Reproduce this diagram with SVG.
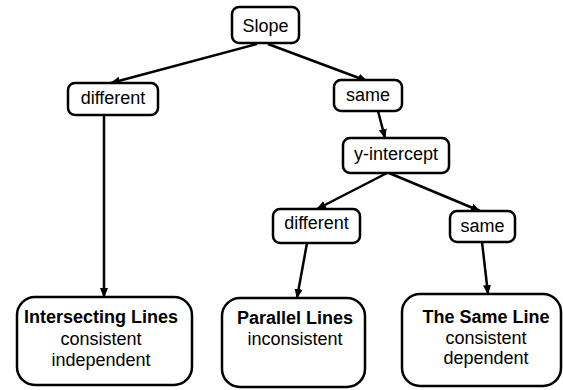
<svg xmlns="http://www.w3.org/2000/svg" width="563" height="390" viewBox="0 0 563 390">
<defs>
<marker id="ah" markerUnits="userSpaceOnUse" markerWidth="10" markerHeight="10" viewBox="0 0 10 10" refX="9" refY="5" orient="auto">
<path d="M0,1 L10,5 L0,9 z" fill="#000"/>
</marker>
</defs>
<style>
.box{fill:#fff;stroke:#000;stroke-width:2.5}
.t{font-family:"Liberation Sans",Arial,sans-serif;font-size:18px;fill:#000;text-anchor:middle}
.b{font-weight:bold}
.c{stroke:#000;stroke-width:2.5;fill:none;marker-end:url(#ah)}
</style>
<g id="connectors">
<line class="c" x1="257" y1="44" x2="111" y2="83"/>
<line class="c" x1="268" y1="44" x2="367" y2="81"/>
<line class="c" x1="104" y1="115" x2="104" y2="297"/>
<line class="c" x1="378" y1="111" x2="385" y2="138"/>
<line class="c" x1="387" y1="173" x2="317" y2="209"/>
<line class="c" x1="389" y1="173" x2="480" y2="211"/>
<line class="c" x1="307" y1="243" x2="297" y2="298"/>
<line class="c" x1="482" y1="242" x2="488" y2="294"/>
</g>
<g id="slope"><rect class="box" x="232" y="7" width="67" height="36" rx="7"/><text class="t" x="265.5" y="32">Slope</text></g>
<g id="diff1"><rect class="box" x="68" y="83" width="90" height="32" rx="7"/><text class="t" x="113" y="104">different</text></g>
<g id="same1"><rect class="box" x="334" y="80" width="68" height="31" rx="7"/><text class="t" x="368" y="101">same</text></g>
<g id="yint"><rect class="box" x="343" y="138" width="106" height="35" rx="7"/><text class="t" x="396" y="160">y-intercept</text></g>
<g id="diff2"><rect class="box" x="273" y="209" width="87" height="34" rx="7"/><text class="t" x="316.5" y="229">different</text></g>
<g id="same2"><rect class="box" x="450" y="211" width="65" height="31" rx="7"/><text class="t" x="482.5" y="232">same</text></g>
<g id="intersecting"><rect class="box" x="17" y="297" width="175" height="88" rx="18"/><text class="t b" x="101" y="323">Intersecting Lines</text><text class="t" x="101" y="345">consistent</text><text class="t" x="101" y="366">independent</text></g>
<g id="parallel"><rect class="box" x="222" y="298" width="143" height="89" rx="18"/><text class="t b" x="295" y="324">Parallel Lines</text><text class="t" x="295" y="345">inconsistent</text></g>
<g id="sameline"><rect class="box" x="402" y="294" width="159" height="92" rx="18"/><text class="t b" x="486" y="323">The Same Line</text><text class="t" x="486" y="344">consistent</text><text class="t" x="486" y="364">dependent</text></g>
</svg>
